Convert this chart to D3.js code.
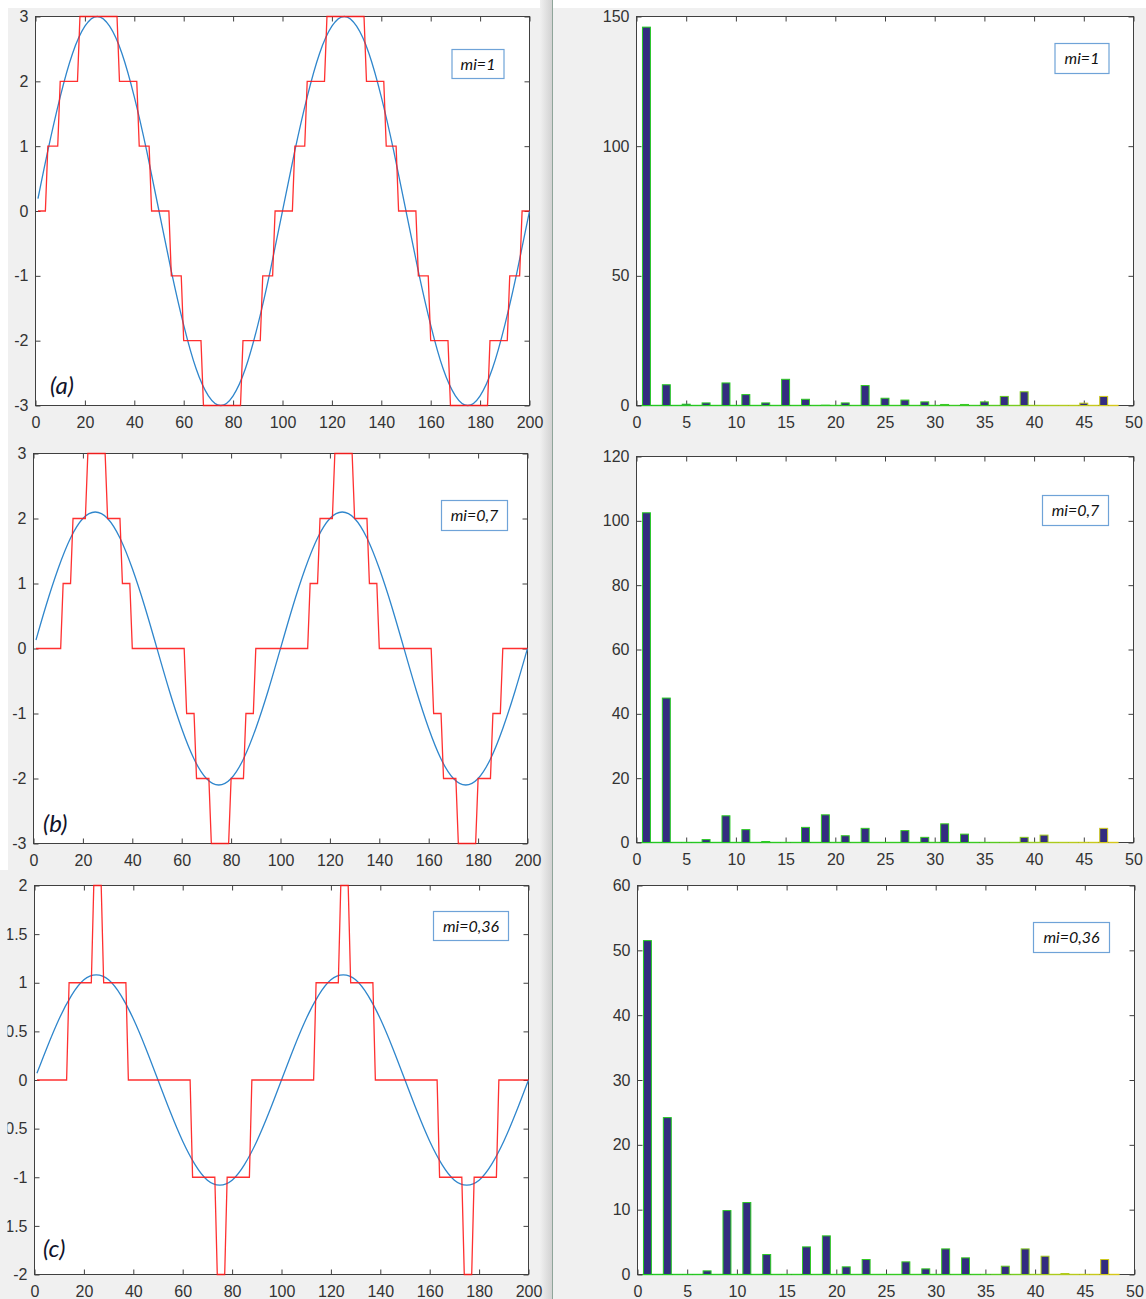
<!DOCTYPE html>
<html>
<head>
<meta charset="utf-8">
<script src="https://cdn.jsdelivr.net/npm/d3@7"></script>
<style>
  html, body { margin: 0; padding: 0; background: #f0f0f0; }
  svg { display: block; }
</style>
</head>
<body>
<svg id="fig" width="1146" height="1299"></svg>
<script>
// ---- reference sine (modulating wave), sampled along the 0..200 axis ----
const sineX = [1,5,10,15,20,25,30,35,40,45,50,55,60,65,70,75,80,85,90,95,100,
               105,110,115,120,125,130,135,140,145,150,155,160,165,170,175,180,185,190,195,200];
const sineA = [0.19,0.93,1.76,2.43,2.85,3.00,2.85,2.43,1.76,0.93,0.00,-0.93,-1.76,-2.43,-2.85,-3.00,-2.85,-2.43,-1.76,-0.93,0.00,
               0.93,1.76,2.43,2.85,3.00,2.85,2.43,1.76,0.93,0.00,-0.93,-1.76,-2.43,-2.85,-3.00,-2.85,-2.43,-1.76,-0.93,0.00];
const sineB = [0.13,0.65,1.23,1.70,2.00,2.10,2.00,1.70,1.23,0.65,0.00,-0.65,-1.23,-1.70,-2.00,-2.10,-2.00,-1.70,-1.23,-0.65,0.00,
               0.65,1.23,1.70,2.00,2.10,2.00,1.70,1.23,0.65,0.00,-0.65,-1.23,-1.70,-2.00,-2.10,-2.00,-1.70,-1.23,-0.65,0.00];
const sineC = [0.07,0.33,0.63,0.87,1.03,1.08,1.03,0.87,0.63,0.33,0.00,-0.33,-0.63,-0.87,-1.03,-1.08,-1.03,-0.87,-0.63,-0.33,0.00,
               0.33,0.63,0.87,1.03,1.08,1.03,0.87,0.63,0.33,0.00,-0.33,-0.63,-0.87,-1.03,-1.08,-1.03,-0.87,-0.63,-0.33,0.00];

// ---- multilevel output: sample where each new level starts, and the level sequence ----
const stairStartA = [5,10,18,34,42,47,55,60,68,84,92,97,105,110,118,134,142,147,155,160,168,184,192,197];
const stairLevelA = [0,1,2,3,2,1,0,-1,-2,-3,-2,-1,0,1,2,3,2,1,0,-1,-2,-3,-2,-1,0];
const stairStartB = [12,16,22,30,36,40,62,66,72,80,86,90,112,116,122,130,136,140,162,166,172,180,186,190];
const stairLevelB = [0,1,2,3,2,1,0,-1,-2,-3,-2,-1,0,1,2,3,2,1,0,-1,-2,-3,-2,-1,0];
const stairStartC = [14,24,28,38,64,74,78,88,114,124,128,138,164,174,178,188];
const stairLevelC = [0,1,2,1,0,-1,-2,-1,0,1,2,1,0,-1,-2,-1,0];

// ---- harmonic spectrum ----
const harmonicOrder = [1,3,5,7,9,11,13,15,17,19,21,23,25,27,29,31,33,35,37,39,41,43,45,47];
const spectrumA = [145.9,8.0,0.5,1.0,8.7,4.2,1.0,10.1,2.4,0.1,1.0,7.7,2.8,2.1,1.4,0.4,0.4,1.4,3.5,5.3,0,0,0.9,3.5];
const spectrumB = [102.5,44.9,0,0.9,8.3,4.0,0.3,0,4.7,8.6,2.1,4.4,0,3.7,1.6,5.8,2.6,0,0,1.6,2.3,0,0,4.4];
const spectrumC = [51.5,24.2,0,0.56,9.86,11.1,3.08,0,4.26,5.96,1.18,2.31,0,1.95,0.87,3.95,2.57,0,1.28,3.95,2.82,0.15,0,2.31];

// ---- ticks and labels ----
const waveXTicks = [0,20,40,60,80,100,120,140,160,180,200];
const waveYTicksAB = [-3,-2,-1,0,1,2,3];
const waveYTicksC = [-2,-1.5,-1,-0.5,0,0.5,1,1.5,2];
const specXTicks = [0,5,10,15,20,25,30,35,40,45,50];
const specYTicksA = [0,50,100,150];
const specYTicksB = [0,20,40,60,80,100,120];
const specYTicksC = [0,10,20,30,40,50,60];
const miLabels = ["mi=1", "mi=0,7", "mi=0,36"];
const panelTags = ["(a)", "(b)", "(c)"];

// ---- layout ----
const rows = [
  { wave: {x0:35.5, x1:529.5, y0:16.5, y1:405.5, ymin:-3, ymax:3, yt:waveYTicksAB},
    spec: {x0:636.5, x1:1133.5, y0:16.5, y1:405.5, ymax:150, yt:specYTicksA},
    sine: sineA, start: stairStartA, level: stairLevelA, spectrum: spectrumA,
    boxW: {x:452, y:49.5, w:52, h:29}, boxS: {x:1055, y:43.5, w:54, h:30},
    tag: {x:50, y:394} },
  { wave: {x0:33.5, x1:527.5, y0:453.5, y1:843.5, ymin:-3, ymax:3, yt:waveYTicksAB},
    spec: {x0:636.5, x1:1133.5, y0:456.5, y1:842.5, ymax:120, yt:specYTicksB},
    sine: sineB, start: stairStartB, level: stairLevelB, spectrum: spectrumB,
    boxW: {x:441.5, y:500.5, w:66, h:30}, boxS: {x:1042.5, y:495.5, w:66, h:30},
    tag: {x:43, y:832} },
  { wave: {x0:34.5, x1:528.5, y0:885.5, y1:1274.5, ymin:-2, ymax:2, yt:waveYTicksC},
    spec: {x0:637.5, x1:1134.5, y0:885.5, y1:1274.5, ymax:60, yt:specYTicksC},
    sine: sineC, start: stairStartC, level: stairLevelC, spectrum: spectrumC,
    boxW: {x:433.5, y:911.5, w:75, h:29}, boxS: {x:1033.5, y:922.5, w:76, h:30},
    tag: {x:43, y:1257} }
];

const AXIS = "#404040";
const TICKFONT = "'Liberation Sans', Arial, sans-serif";
const NOTEFONT = "Lato, 'Open Sans', sans-serif";
const svg = d3.select("#fig");
const defs = svg.append("defs");

// figure background, window edges and divider
svg.append("rect").attr("width", 1146).attr("height", 1299).attr("fill", "#f0f0f0");
svg.append("rect").attr("x", 0).attr("y", 0).attr("width", 1146).attr("height", 8).attr("fill", "#ffffff");
svg.append("rect").attr("x", 0).attr("y", 0).attr("width", 8).attr("height", 870).attr("fill", "#ffffff");
const sep = defs.append("linearGradient").attr("id", "sepShade").attr("x1", 0).attr("x2", 1).attr("y1", 0).attr("y2", 0);
sep.append("stop").attr("offset", 0).attr("stop-color", "#f0f0f0");
sep.append("stop").attr("offset", 1).attr("stop-color", "#d2d2d2");
svg.append("rect").attr("x", 540).attr("y", 0).attr("width", 12).attr("height", 1299).attr("fill", "url(#sepShade)");
svg.append("line").attr("x1", 552.5).attr("x2", 552.5).attr("y1", 0).attr("y2", 1299)
  .attr("stroke", "#8fa59a").attr("stroke-width", 1);

// clip for the bottom-left labels that run off the window edge
defs.append("clipPath").attr("id", "rowCclip")
  .append("rect").attr("x", 7.5).attr("y", 860).attr("width", 560).attr("height", 440);

function frameAxes(g, x, y, box, xt, yt) {
  g.append("rect").attr("x", box.x0).attr("y", box.y0)
    .attr("width", box.x1 - box.x0).attr("height", box.y1 - box.y0).attr("fill", "#ffffff");

  const style = sel => {
    sel.select(".domain").remove();
    sel.selectAll(".tick line").attr("stroke", AXIS).attr("stroke-width", 1);
    sel.selectAll(".tick text").attr("fill", "#333333").attr("font-size", 16).attr("font-family", TICKFONT);
    sel.attr("font-family", TICKFONT).attr("font-size", 16);
  };
  g.append("g").attr("transform", `translate(0,${box.y1})`)
    .call(d3.axisBottom(x).tickValues(xt).tickSize(-5).tickPadding(11.5).tickFormat(d => String(d))).call(style);
  g.append("g").attr("transform", `translate(0,${box.y0})`)
    .call(d3.axisTop(x).tickValues(xt).tickSize(-5).tickFormat(() => "")).call(style);
  g.append("g").attr("transform", `translate(${box.x0},0)`)
    .call(d3.axisLeft(y).tickValues(yt).tickSize(-5).tickPadding(7).tickFormat(d => String(d))).call(style);
  g.append("g").attr("transform", `translate(${box.x1},0)`)
    .call(d3.axisRight(y).tickValues(yt).tickSize(-5).tickFormat(() => "")).call(style);

  g.append("rect").attr("x", box.x0).attr("y", box.y0)
    .attr("width", box.x1 - box.x0).attr("height", box.y1 - box.y0)
    .attr("fill", "none").attr("stroke", AXIS).attr("stroke-width", 1);
}

function noteBox(g, b, text) {
  g.append("rect").attr("x", b.x).attr("y", b.y).attr("width", b.w).attr("height", b.h)
    .attr("fill", "#ffffff").attr("stroke", "#6fa3d8").attr("stroke-width", 1.2);
  g.append("text").attr("x", b.x + b.w / 2).attr("y", b.y + b.h / 2 + 5.5)
    .attr("text-anchor", "middle").attr("font-family", NOTEFONT).attr("font-style", "italic")
    .attr("font-size", 16).attr("fill", "#111111").text(text);
}

function stairPoints(start, level) {
  const pts = [];
  let s = 1;
  level.forEach((lv, i) => {
    const e = i < start.length ? start[i] - 1 : 200;
    pts.push([s, lv], [e, lv]);
    s = start[i];
  });
  return pts;
}

const edgeColor = d3.scaleLinear().domain([0, 34, 41, 48])
  .range(["#22c922", "#3acb22", "#a4cc1e", "#d6c81a"]);

rows.forEach((r, i) => {
  // ---- waveform panel ----
  const w = r.wave;
  const gw = svg.append("g");
  if (i === 2) gw.attr("clip-path", "url(#rowCclip)");
  const xw = d3.scaleLinear().domain([0, 200]).range([w.x0, w.x1]);
  const yw = d3.scaleLinear().domain([w.ymin, w.ymax]).range([w.y1, w.y0]);
  frameAxes(gw, xw, yw, w, waveXTicks, w.yt);

  const sinePts = sineX.map((xv, k) => [xv, r.sine[k]]);
  gw.append("path").datum(sinePts)
    .attr("d", d3.line().x(d => xw(d[0])).y(d => yw(d[1])).curve(d3.curveNatural))
    .attr("fill", "none").attr("stroke", "#2f86cc").attr("stroke-width", 1.3);

  gw.append("path").datum(stairPoints(r.start, r.level))
    .attr("d", d3.line().x(d => xw(d[0])).y(d => yw(d[1])))
    .attr("fill", "none").attr("stroke", "#ff1a1a").attr("stroke-width", 1.3)
    .attr("stroke-opacity", 0.9).attr("stroke-linejoin", "miter");

  noteBox(gw, r.boxW, miLabels[i]);
  gw.append("text").attr("x", r.tag.x).attr("y", r.tag.y)
    .attr("font-family", NOTEFONT).attr("font-style", "italic").attr("font-size", 24)
    .attr("fill", "#10122a").text(panelTags[i]);

  // ---- spectrum panel ----
  const s = r.spec;
  const gs = svg.append("g");
  const xs = d3.scaleLinear().domain([0, 50]).range([s.x0, s.x1]);
  const ys = d3.scaleLinear().domain([0, s.ymax]).range([s.y1, s.y0]);
  frameAxes(gs, xs, ys, s, specXTicks, s.yt);

  // coloured baseline under the bars
  gs.append("g").selectAll("line").data(d3.range(1, 49)).join("line")
    .attr("x1", k => xs(k - 0.5)).attr("x2", k => xs(k + 0.5))
    .attr("y1", ys(0)).attr("y2", ys(0))
    .attr("stroke", k => edgeColor(k)).attr("stroke-width", 1.4);

  const bw = xs(0.8) - xs(0);
  gs.append("g").selectAll("rect").data(harmonicOrder.map((h, k) => ({h, v: r.spectrum[k]}))).join("rect")
    .attr("x", d => xs(d.h) - bw / 2)
    .attr("y", d => ys(d.v))
    .attr("width", bw)
    .attr("height", d => ys(0) - ys(d.v))
    .attr("fill", "#332c80")
    .attr("stroke", d => edgeColor(d.h)).attr("stroke-width", 1);

  noteBox(gs, r.boxS, miLabels[i]);
});
</script>
</body>
</html>
